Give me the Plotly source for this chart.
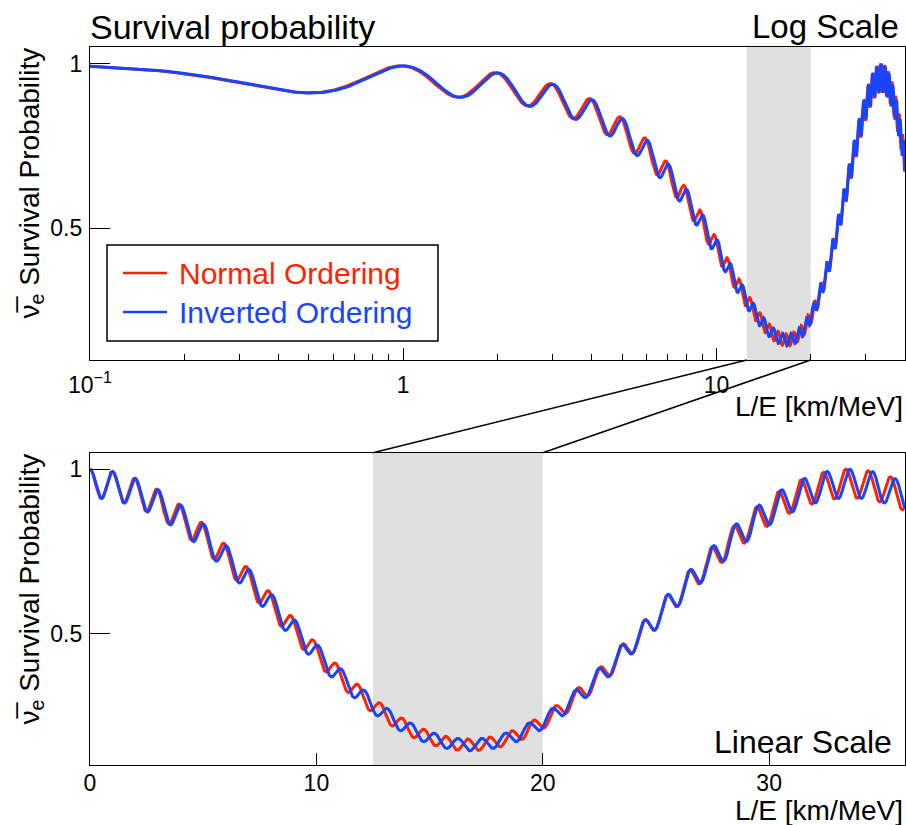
import numpy as np
import plotly.graph_objects as go

# ---------------- data (oscillation parameters) ----------------
ordering_names = ["Normal Ordering", "Inverted Ordering"]
ordering_colors = ["#ff2200", "#1644ff"]
dm2_31 = [2.525e-3, -2.438e-3]   # eV^2
dm2_32 = [2.451e-3, -2.512e-3]   # eV^2
dm2_21 = 7.39e-5                 # eV^2
sin2_th12 = 0.295
sin2_th13 = 0.0224
shaded_range = [12.5, 20.0]      # km/MeV
log_range = [0.1, 40.0]
lin_range = [0.0, 36.0]
y_range = [0.1, 1.05]
log_major_ticks = [0.1, 1, 10]
log_major_text = ["10<sup>\u22121</sup>", "1", "10"]
log_minor_ticks = [0.2, 0.3, 0.4, 0.5, 0.6, 0.7, 0.8, 0.9, 2, 3, 4, 5, 6, 7, 8, 9, 20, 30]
lin_ticks = [0, 10, 20, 30]
y_ticks = [0.5, 1]
y_text = ["0.5", "1"]


def survival(le, d31, d32):
    s12, s13 = sin2_th12, sin2_th13
    c12, c13 = 1 - s12, 1 - s13
    s22_12 = 4 * s12 * c12
    s22_13 = 4 * s13 * c13
    k = 1267.0
    D21 = k * dm2_21 * le
    D31 = k * d31 * le
    D32 = k * d32 * le
    return (1 - c13 ** 2 * s22_12 * np.sin(D21) ** 2
            - s22_13 * (c12 * np.sin(D31) ** 2 + s12 * np.sin(D32) ** 2))


le_log = np.logspace(np.log10(log_range[0]), np.log10(log_range[1]), 24000)
le_lin = np.linspace(lin_range[0], lin_range[1], 6000)

# ---------------- layout geometry ----------------
W, H = 906, 825
ML, MR, MT, MB = 90, 1, 47, 60
PW, PH = W - ML - MR, H - MT - MB


def px_x(px):
    return (px - ML) / PW


def px_y(py):
    return (H - MB - py) / PH


FONT = "Liberation Sans, Arial, Helvetica, sans-serif"
top_dom = [px_y(360), 1.0]
bot_dom = [0.0, px_y(452.7)]

fig = go.Figure()
for i, name in enumerate(ordering_names):
    fig.add_trace(go.Scatter(
        x=le_log, y=np.round(survival(le_log, dm2_31[i], dm2_32[i]), 5),
        mode="lines", line=dict(color=ordering_colors[i], width=3),
        name=name, xaxis="x", yaxis="y", showlegend=False, hoverinfo="skip"))
for i, name in enumerate(ordering_names):
    fig.add_trace(go.Scatter(
        x=le_lin, y=np.round(survival(le_lin, dm2_31[i], dm2_32[i]), 5),
        mode="lines", line=dict(color=ordering_colors[i], width=3),
        name=name, xaxis="x2", yaxis="y2", showlegend=False, hoverinfo="skip"))

axis_common = dict(showline=True, linecolor="black", linewidth=1.2, mirror=True,
                   showgrid=False, zeroline=False, ticks="inside", tickcolor="black",
                   tickwidth=1.2, tickfont=dict(family=FONT, size=23, color="black"))

fig.update_layout(
    width=W, height=H, margin=dict(l=ML, r=MR, t=MT, b=MB),
    paper_bgcolor="white", plot_bgcolor="white",
    font=dict(family=FONT, color="black"),
    xaxis=dict(type="log", range=[np.log10(log_range[0]), np.log10(log_range[1])],
               domain=[0, 1], anchor="y", tickmode="array", tickvals=log_major_ticks,
               ticktext=log_major_text, ticklen=12, ticklabelstandoff=4,
               minor=dict(tickmode="array", tickvals=log_minor_ticks, ticks="inside",
                          ticklen=6, tickwidth=1.2, tickcolor="black", showgrid=False),
               **axis_common),
    yaxis=dict(range=y_range, domain=top_dom, anchor="x", tickmode="array",
               tickvals=y_ticks, ticktext=y_text, ticklen=20, ticklabelstandoff=2,
               **axis_common),
    xaxis2=dict(range=lin_range, domain=[0, 1], anchor="y2", tickmode="array",
                tickvals=lin_ticks, ticklen=12, ticklabelstandoff=-3, **axis_common),
    yaxis2=dict(range=y_range, domain=bot_dom, anchor="x2", tickmode="array",
                tickvals=y_ticks, ticktext=y_text, ticklen=20, ticklabelstandoff=2,
                **axis_common),
    showlegend=False,
)

# shaded windows
fig.add_shape(type="rect", xref="x", yref="paper", x0=shaded_range[0], x1=shaded_range[1],
              y0=top_dom[0], y1=top_dom[1], fillcolor="#e0e0e0", line_width=0, layer="below")
fig.add_shape(type="rect", xref="x2", yref="paper", x0=shaded_range[0], x1=shaded_range[1],
              y0=bot_dom[0], y1=bot_dom[1], fillcolor="#e0e0e0", line_width=0, layer="below")


# connecting lines from log window to linear window
def log_paper(v):
    a, b = np.log10(log_range[0]), np.log10(log_range[1])
    return (np.log10(v) - a) / (b - a)


def lin_paper(v):
    return (v - lin_range[0]) / (lin_range[1] - lin_range[0])


for v in shaded_range:
    fig.add_shape(type="line", xref="paper", yref="paper",
                  x0=log_paper(v), y0=top_dom[0], x1=lin_paper(v), y1=bot_dom[1],
                  line=dict(color="black", width=1.5), layer="above")

# legend box (ROOT TLegend style)
fig.add_shape(type="rect", xref="paper", yref="paper", x0=px_x(107), x1=px_x(438),
              y0=px_y(341), y1=px_y(245), fillcolor="white",
              line=dict(color="black", width=1.5), layer="above")
legend_rows = [273, 312]
ann = []
for i, name in enumerate(ordering_names):
    fig.add_shape(type="line", xref="paper", yref="paper", x0=px_x(123), x1=px_x(167),
                  y0=px_y(legend_rows[i]), y1=px_y(legend_rows[i]),
                  line=dict(color=ordering_colors[i], width=2.5), layer="above")
    ann.append(dict(text=name, x=px_x(177), y=px_y(legend_rows[i]), xanchor="left",
                    yanchor="middle", font=dict(size=30, color=ordering_colors[i])))

ann.append(dict(text="Survival probability", x=px_x(88), y=px_y(27), xanchor="left",
                yanchor="middle", font=dict(size=34)))
ann.append(dict(text="Log Scale", x=px_x(901), y=px_y(26), xanchor="right",
                yanchor="middle", font=dict(size=33)))
ann.append(dict(text="Linear Scale", x=px_x(894), y=px_y(742), xanchor="right",
                yanchor="middle", font=dict(size=32)))
ann.append(dict(text="L/E [km/MeV]", x=px_x(905), y=px_y(406), xanchor="right",
                yanchor="middle", font=dict(size=28)))
ann.append(dict(text="L/E [km/MeV]", x=px_x(905), y=px_y(810), xanchor="right",
                yanchor="middle", font=dict(size=28)))
for ytop in (46, 452):
    ann.append(dict(text="\u03bd\u0305<sub>e</sub> Survival Probability", x=px_x(31),
                    y=px_y(ytop), xanchor="center", yanchor="top", textangle=-90,
                    font=dict(size=28)))
for a in ann:
    a.update(xref="paper", yref="paper", showarrow=False)
    a["font"].setdefault("color", "black")
    a["font"]["family"] = FONT
fig.update_layout(annotations=ann)

fig.write_html("out.html")
